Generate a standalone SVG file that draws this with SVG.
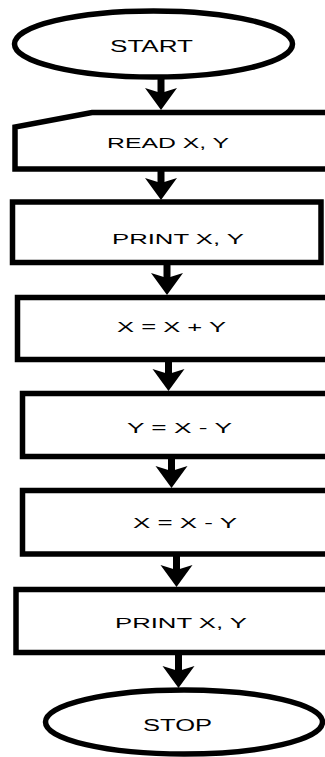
<svg xmlns="http://www.w3.org/2000/svg" width="325" height="757" viewBox="0 0 325 757">
<style>
.shape{fill:#fff;stroke:#000;stroke-width:5.5;stroke-linejoin:miter}
.lbl{font-family:"Liberation Sans",Arial,sans-serif;font-size:15px;fill:#000;text-anchor:middle}
.term{font-size:16px}
.conn{stroke:#000;stroke-width:7;fill:none;marker-end:url(#head)}
</style>
<defs>
<marker id="head" markerUnits="userSpaceOnUse" viewBox="-6 -17 24 34" markerWidth="24" markerHeight="34" refX="0" refY="0" orient="auto" overflow="visible">
<path d="M-5,-16 L17,0 L-5,16 L0,0 Z" fill="#000"/>
</marker>
</defs>
<rect width="325" height="757" fill="#fff"/>
<g id="connectors">
<line class="conn" x1="161" y1="76" x2="161" y2="93"/>
<line class="conn" x1="161" y1="169" x2="161" y2="183"/>
<line class="conn" x1="167" y1="262" x2="167" y2="278"/>
<line class="conn" x1="168.5" y1="359" x2="168.5" y2="374"/>
<line class="conn" x1="171.5" y1="456" x2="171.5" y2="471"/>
<line class="conn" x1="176.5" y1="554" x2="176.5" y2="570"/>
<line class="conn" x1="178.5" y1="652" x2="178.5" y2="671"/>
</g>
<g id="start">
<ellipse class="shape" cx="153.5" cy="44" rx="139" ry="33"/>
<text class="lbl term" x="151.5" y="52" textLength="83" lengthAdjust="spacingAndGlyphs">START</text>
</g>
<g id="read">
<path class="shape" d="M330,112.5 L92,112.5 L15,127 L15,169 L330,169"/>
<text class="lbl" x="168" y="148" textLength="122" lengthAdjust="spacingAndGlyphs">READ X, Y</text>
</g>
<g id="print1">
<rect class="shape" x="12.5" y="202" width="308.5" height="60.5"/>
<text class="lbl" x="178" y="244" textLength="132" lengthAdjust="spacingAndGlyphs">PRINT X, Y</text>
</g>
<g id="sum">
<rect class="shape" x="17.5" y="297.5" width="320" height="62"/>
<text class="lbl" x="171.5" y="332" textLength="109" lengthAdjust="spacingAndGlyphs">X = X + Y</text>
</g>
<g id="diff1">
<rect class="shape" x="22.5" y="393.5" width="320" height="63"/>
<text class="lbl" x="179.5" y="432.5" textLength="105" lengthAdjust="spacingAndGlyphs">Y = X - Y</text>
</g>
<g id="diff2">
<rect class="shape" x="22.5" y="490.5" width="320" height="63.5"/>
<text class="lbl" x="185" y="528" textLength="104" lengthAdjust="spacingAndGlyphs">X = X - Y</text>
</g>
<g id="print2">
<rect class="shape" x="16" y="589.5" width="320" height="63"/>
<text class="lbl" x="181" y="628" textLength="132" lengthAdjust="spacingAndGlyphs">PRINT X, Y</text>
</g>
<g id="stop">
<ellipse class="shape" cx="184" cy="722" rx="138.5" ry="32"/>
<text class="lbl term" x="177.5" y="731" textLength="69" lengthAdjust="spacingAndGlyphs">STOP</text>
</g>
</svg>
